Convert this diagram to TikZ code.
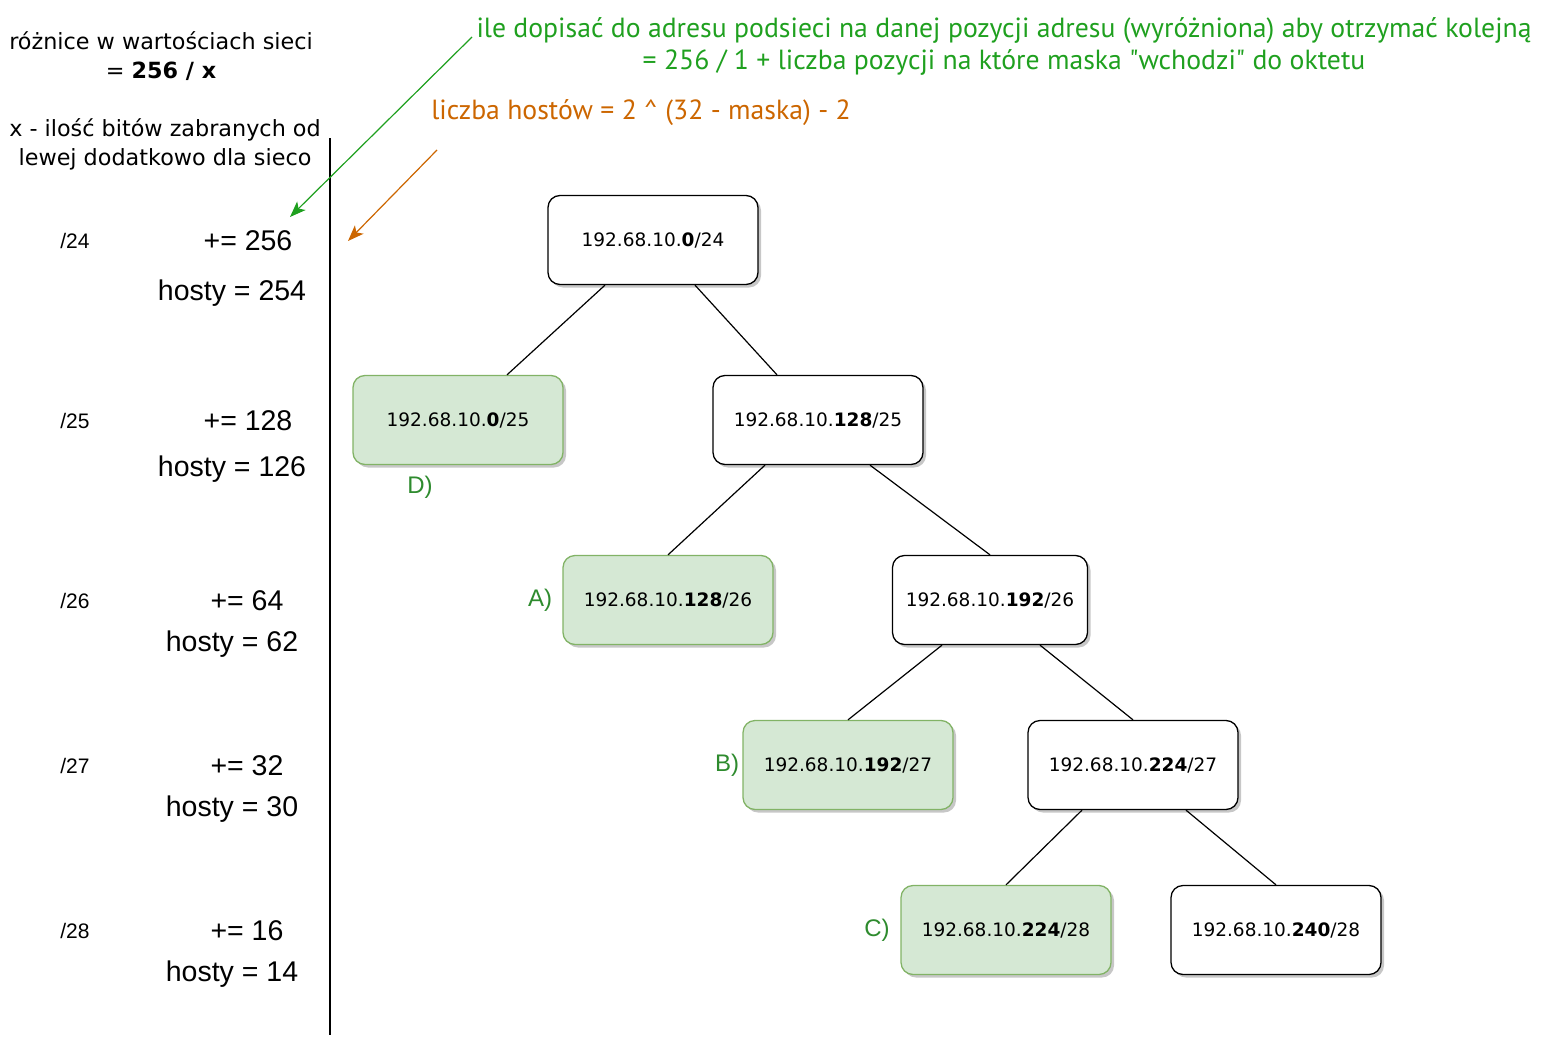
\documentclass[tikz,border=0pt]{standalone}
\usepackage{fontspec}
\setmainfont{Liberation Sans}
\newfontfamily\boxfont{DejaVu Sans}
\newfontfamily\handfont{DejaVu Sans}
\newfontfamily\notefont{PT Sans}
\usetikzlibrary{shadows,arrows.meta}
\definecolor{gfill}{HTML}{D5E8D4}
\definecolor{gline}{HTML}{82B366}
\definecolor{notegreen}{HTML}{1FA01F}
\definecolor{noteorange}{HTML}{CC6600}
\definecolor{labgreen}{HTML}{2E8B2E}
\begin{document}
\begin{tikzpicture}[x=1pt,y=-1pt,
  net/.style={draw=black, line width=1.3pt, rounded corners=12pt, fill=white,
    minimum width=210pt, minimum height=89pt, inner sep=0pt,
    font=\boxfont\fontsize{18.5}{22}\selectfont,
    drop shadow={shadow xshift=3pt, shadow yshift=-3pt, opacity=0.22, fill=black}},
  used/.style={net, draw=gline, fill=gfill},
  edge/.style={draw=black, line width=1.2pt},
  mask/.style={font=\fontsize{21}{24}\selectfont},
  inc/.style={font=\fontsize{28.5}{32}\selectfont},
  lab/.style={text=labgreen, font=\fontsize{24}{28}\selectfont},
  hand/.style={font=\handfont\fontsize{22.3}{29}\selectfont, align=center},
  note/.style={font=\notefont\fontsize{27.7}{32}\selectfont, align=center},
  tip/.style={-{Stealth[length=16pt,width=12pt,inset=4pt]}}
]
\useasboundingbox (0,0) rectangle (1541,1038);

% left annotations
\node[hand] (t1) at (161,56) {różnice w wartościach sieci\\ = \textbf{256 / x}};
\node[hand] (t2) at (165,144) {x - ilość bitów zabranych od\\ lewej dodatkowo dla sieco};

% separator
\coordinate (vtop) at (330,138);
\coordinate (vbot) at (330,1035);
\draw[line width=1.2pt] (vtop) -- (vbot);

% mask rows
\node[mask] (m24) at (75,241) {/24};
\node[inc] (i24) at (248,241) {+= 256};
\node[inc] (h24) at (232,293) {hosty = 254};
\node[mask] (m25) at (75,421) {/25};
\node[inc] (i25) at (248,421) {+= 128};
\node[inc] (h25) at (232,469) {hosty = 126};
\node[mask] (m26) at (75,601) {/26};
\node[inc] (i26) at (247,601) {+= 64};
\node[inc] (h26) at (232,644) {hosty = 62};
\node[mask] (m27) at (75,766) {/27};
\node[inc] (i27) at (247,766) {+= 32};
\node[inc] (h27) at (232,809) {hosty = 30};
\node[mask] (m28) at (75,931) {/28};
\node[inc] (i28) at (247,931) {+= 16};
\node[inc] (h28) at (232,974) {hosty = 14};

% top notes
\node[note, text=notegreen] (g1) at (1004,46) {ile dopisać do adresu podsieci na danej pozycji adresu (wyróżniona) aby otrzymać kolejną\\ = 256 / 1 + liczba pozycji na które maska "wchodzi" do oktetu};
\node[note, text=noteorange] (o1) at (641,113) {liczba hostów = 2 \^{} (32 - maska) - 2};

\coordinate (gs) at (472,37);
\coordinate (ge) at (290,217);
\draw[notegreen, line width=1.2pt, tip] (gs) -- (ge);
\coordinate (os) at (437,150);
\coordinate (oe) at (348,241);
\draw[noteorange, line width=1.2pt, tip] (os) -- (oe);

% tree
\node[net] (n24) at (653,240) {192.68.10.\textbf{0}/24};
\node[used] (n25a) at (458,420) {192.68.10.\textbf{0}/25};
\node[net] (n25b) at (818,420) {192.68.10.\textbf{128}/25};
\node[used] (n26a) at (668,600) {192.68.10.\textbf{128}/26};
\node[net, minimum width=195pt] (n26b) at (990,600) {192.68.10.\textbf{192}/26};
\node[used] (n27a) at (848,765) {192.68.10.\textbf{192}/27};
\node[net] (n27b) at (1133,765) {192.68.10.\textbf{224}/27};
\node[used] (n28a) at (1006,930) {192.68.10.\textbf{224}/28};
\node[net] (n28b) at (1276,930) {192.68.10.\textbf{240}/28};

\draw[edge] ([xshift=-48pt]n24.south) -- ([xshift=49pt]n25a.north);
\draw[edge] ([xshift=42pt]n24.south) -- ([xshift=-41pt]n25b.north);
\draw[edge] ([xshift=-53pt]n25b.south) -- (n26a.north);
\draw[edge] ([xshift=52pt]n25b.south) -- (n26b.north);
\draw[edge] ([xshift=-48pt]n26b.south) -- (n27a.north);
\draw[edge] ([xshift=50pt]n26b.south) -- (n27b.north);
\draw[edge] ([xshift=-51pt]n27b.south) -- (n28a.north);
\draw[edge] ([xshift=53pt]n27b.south) -- (n28b.north);

% labels
\node[lab] (ld) at (420,487) {D)};
\node[lab] (la) at (540,600) {A)};
\node[lab] (lb) at (727,765) {B)};
\node[lab] (lc) at (877,930) {C)};
\end{tikzpicture}
\end{document}
